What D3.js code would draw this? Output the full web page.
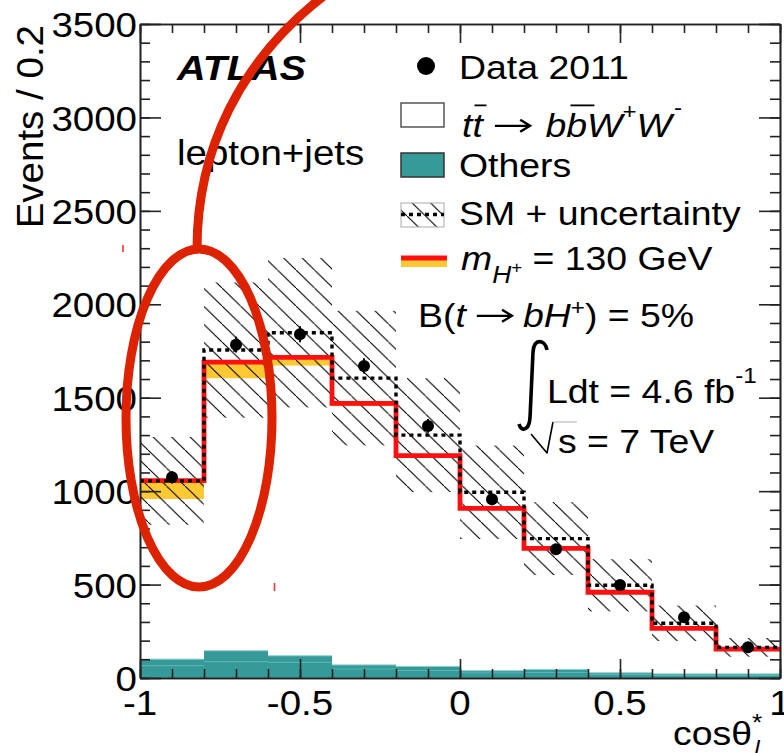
<!DOCTYPE html>
<html>
<head>
<meta charset="utf-8">
<script src="https://cdn.jsdelivr.net/npm/d3@7"></script>
<style>
  html, body { margin: 0; padding: 0; background: #fff; }
  svg { display: block; font-family: "Liberation Sans", Arial, Helvetica, sans-serif; }
  text { white-space: pre; }
</style>
</head>
<body>
<svg id="chart" width="784" height="753"></svg>
<script>
// cos(theta*_l) distribution, lepton+jets, 10 bins of width 0.2
const binLow = [-1.0, -0.8, -0.6, -0.4, -0.2, 0.0, 0.2, 0.4, 0.6, 0.8];
const binWidth = 0.2;

// Data 2011 (events per bin) and statistical errors
const dataEvents = [1074, 1784, 1840, 1670, 1349, 956, 689, 498, 325, 164];
const dataErr    = [33, 42, 43, 41, 37, 31, 26, 22, 18, 13];

// SM expectation (dotted) and its uncertainty (hatched band)
const smTotal = [1055, 1755, 1848, 1605, 1300, 994, 746, 496, 293, 164];
const smUnc   = [235, 362, 400, 360, 305, 250, 195, 140, 95, 50];

// Signal hypothesis m_H+ = 130 GeV, B(t->bH+) = 5% (red) and lower edge of yellow band
const signalTotal = [1056, 1690, 1716, 1470, 1190, 908, 694, 459, 266, 154];
const signalLow   = [958, 1604, 1672, 1455, 1185, 903, 690, 455, 263, 152];

// Other backgrounds, two stacked components
const othersLower = [66, 87, 84, 48, 40, 27, 30, 18, 14, 14];
const othersUpper = [35, 59, 35, 22, 22, 12, 16, 10, 8, 8];

// Axis tick labels
const yTickLabels = [0, 500, 1000, 1500, 2000, 2500, 3000, 3500];
const xTickLabels = [-1, -0.5, 0, 0.5, 1];

const SX = 1.1;             // horizontal text stretch
const FONT = 35;
const TEAL = "#369a99";
const RED = "#ff1010";
const YELLOW = "#fec933";

const svg = d3.select("#chart");
const x = d3.scaleLinear().domain([-1, 1]).range([140, 780]);
const y = d3.scaleLinear().domain([0, 3500]).range([678, 24]);

// hatch pattern
const defs = svg.append("defs");
const HW = 18.5, HH = 18;
const pat = defs.append("pattern").attr("id", "hatch")
  .attr("patternUnits", "userSpaceOnUse").attr("width", HW).attr("height", HH);
pat.append("path")
  .attr("d", `M${-2},${-2 * HH / HW} L${HW + 2},${HH + 2 * HH / HW}`)
  .attr("stroke", "#000").attr("stroke-width", 1.05);

const plot = svg.append("g");

// Others (stacked)
plot.selectAll("rect.olow").data(binLow).join("rect")
  .attr("x", d => x(d)).attr("width", d => x(d + binWidth) - x(d))
  .attr("y", (d, i) => y(othersLower[i]))
  .attr("height", (d, i) => y(0) - y(othersLower[i]))
  .attr("fill", TEAL);
plot.selectAll("rect.oup").data(binLow).join("rect")
  .attr("x", d => x(d)).attr("width", d => x(d + binWidth) - x(d))
  .attr("y", (d, i) => y(othersLower[i] + othersUpper[i]))
  .attr("height", (d, i) => y(othersLower[i]) - y(othersLower[i] + othersUpper[i]))
  .attr("fill", TEAL);
plot.selectAll("line.osep").data(binLow).join("line")
  .attr("x1", d => x(d)).attr("x2", d => x(d + binWidth))
  .attr("y1", (d, i) => y(othersLower[i])).attr("y2", (d, i) => y(othersLower[i]))
  .attr("stroke", "#5ab5b4").attr("stroke-width", 1);
plot.selectAll("line.otop").data(binLow).join("line")
  .attr("x1", d => x(d)).attr("x2", d => x(d + binWidth))
  .attr("y1", (d, i) => y(othersLower[i] + othersUpper[i]))
  .attr("y2", (d, i) => y(othersLower[i] + othersUpper[i]))
  .attr("stroke", "#8fcfce").attr("stroke-width", 1);

// yellow band under the signal line
plot.selectAll("rect.yel").data(binLow).join("rect")
  .attr("x", d => x(d)).attr("width", d => x(d + binWidth) - x(d))
  .attr("y", (d, i) => y(signalTotal[i]))
  .attr("height", (d, i) => y(signalLow[i]) - y(signalTotal[i]))
  .attr("fill", YELLOW);

// SM uncertainty band
plot.selectAll("rect.unc").data(binLow).join("rect")
  .attr("x", d => x(d)).attr("width", d => x(d + binWidth) - x(d))
  .attr("y", (d, i) => y(smTotal[i] + smUnc[i]))
  .attr("height", (d, i) => y(smTotal[i] - smUnc[i]) - y(smTotal[i] + smUnc[i]))
  .attr("fill", "url(#hatch)");

// step lines
const stepPts = vals => binLow.map((b, i) => [b, vals[i]]).concat([[1, vals[vals.length - 1]]]);
const step = d3.line().x(d => x(d[0])).y(d => y(d[1])).curve(d3.curveStepAfter);

plot.append("path").attr("d", step(stepPts(signalTotal)))
  .attr("fill", "none").attr("stroke", RED).attr("stroke-width", 4.8);
plot.append("path").attr("d", step(stepPts(smTotal)))
  .attr("fill", "none").attr("stroke", "#000").attr("stroke-width", 3.4)
  .attr("stroke-dasharray", "4,4");

// data points
const centers = binLow.map(b => b + binWidth / 2);
plot.selectAll("line.err").data(centers).join("line")
  .attr("x1", d => x(d)).attr("x2", d => x(d))
  .attr("y1", (d, i) => y(dataEvents[i] + dataErr[i]))
  .attr("y2", (d, i) => y(dataEvents[i] - dataErr[i]))
  .attr("stroke", "#000").attr("stroke-width", 2);
plot.selectAll("circle.pt").data(centers).join("circle")
  .attr("cx", d => x(d)).attr("cy", (d, i) => y(dataEvents[i]))
  .attr("r", 6).attr("fill", "#000");

// axes (frame with ticks on all four sides)
function styleAxis(g) {
  g.selectAll("path.domain").attr("stroke", "#222").attr("stroke-width", 1.6);
  g.selectAll(".tick line").attr("stroke", "#222").attr("stroke-width", 1.6);
  g.selectAll("text").remove();
}
const axes = svg.append("g");
const yMinor = y.ticks(35), yMajor = y.ticks(7);
const xMinor = x.ticks(20), xMajor = x.ticks(4);

axes.append("g").attr("transform", `translate(${x(-1)},0)`)
  .call(d3.axisLeft(y).tickValues(yMinor).tickSizeInner(-10).tickSizeOuter(0)).call(styleAxis);
axes.append("g").attr("transform", `translate(${x(-1)},0)`)
  .call(d3.axisLeft(y).tickValues(yMajor).tickSizeInner(-21).tickSizeOuter(0)).call(styleAxis);
axes.append("g").attr("transform", `translate(${x(1)},0)`)
  .call(d3.axisRight(y).tickValues(yMinor).tickSizeInner(-10).tickSizeOuter(0)).call(styleAxis);
axes.append("g").attr("transform", `translate(${x(1)},0)`)
  .call(d3.axisRight(y).tickValues(yMajor).tickSizeInner(-21).tickSizeOuter(0)).call(styleAxis);
axes.append("g").attr("transform", `translate(0,${y(0)})`)
  .call(d3.axisBottom(x).tickValues(xMinor).tickSizeInner(-9).tickSizeOuter(0)).call(styleAxis);
axes.append("g").attr("transform", `translate(0,${y(0)})`)
  .call(d3.axisBottom(x).tickValues(xMajor).tickSizeInner(-19).tickSizeOuter(0)).call(styleAxis);
axes.append("g").attr("transform", `translate(0,${y(3500)})`)
  .call(d3.axisTop(x).tickValues(xMinor).tickSizeInner(-9).tickSizeOuter(0)).call(styleAxis);
axes.append("g").attr("transform", `translate(0,${y(3500)})`)
  .call(d3.axisTop(x).tickValues(xMajor).tickSizeInner(-19).tickSizeOuter(0)).call(styleAxis);

// tick labels
const yLab = axes.append("g").attr("transform", `translate(${x(-1)},0)`)
  .call(d3.axisLeft(y).tickValues(yTickLabels).tickSize(0).tickPadding(3).tickFormat(d => String(d)));
yLab.select("path.domain").remove();
yLab.selectAll("text").attr("font-size", FONT).attr("fill", "#000")
  .attr("font-family", "'Liberation Sans', Arial, sans-serif")
  .attr("x", -3 / SX).attr("dy", "0.36em").attr("transform", `scale(${SX},1)`);

const xLab = axes.append("g").attr("transform", `translate(0,${y(0)})`)
  .call(d3.axisBottom(x).tickValues(xTickLabels).tickSize(0)
    .tickFormat(d => d < 0 ? "-" + String(Math.abs(d)) : String(d)));
xLab.select("path.domain").remove();
xLab.selectAll("text").attr("font-size", FONT).attr("fill", "#000")
  .attr("font-family", "'Liberation Sans', Arial, sans-serif")
  .attr("y", 37).attr("dy", 0).attr("transform", `scale(${SX},1)`)
  .each(function () { d3.select(this).attr("x", 0); });
xLab.selectAll(".tick").each(function (d) {
  d3.select(this).attr("transform", `translate(${x(d)},0)`);
});

// rich text helper: runs of text (and arrows) laid out left to right
function richText(parent, x0, y0, size, items) {
  const g = parent.append("g").attr("transform", `translate(${x0},${y0}) scale(${SX},1)`);
  let cx = 0;
  for (const it of items) {
    const fs = it.size || size;
    if (it.arrow) {
      const a0 = cx + (it.pre || 0), a1 = a0 + it.arrow, ay = -fs * 0.33;
      g.append("path")
        .attr("d", `M${a0},${ay} L${a1 - 1},${ay} M${a1 - 9},${ay - 6} L${a1},${ay} L${a1 - 9},${ay + 6}`)
        .attr("fill", "none").attr("stroke", "#000").attr("stroke-width", 2.2)
        .attr("stroke-linejoin", "miter");
      cx = a1 + (it.post || 0);
      continue;
    }
    const t = g.append("text").attr("x", cx + (it.dx || 0)).attr("y", it.dy || 0)
      .attr("font-size", fs).text(it.t);
    if (it.italic) t.attr("font-style", "italic");
    if (it.bold) t.attr("font-weight", "bold");
    const w = t.node().getComputedTextLength();
    if (it.bar) {
      g.append("line")
        .attr("x1", cx + (it.dx || 0) + w * 0.2).attr("x2", cx + (it.dx || 0) + w * 1.35)
        .attr("y1", -fs * 0.93).attr("y2", -fs * 0.93)
        .attr("stroke", "#000").attr("stroke-width", 1.8);
    }
    if (!it.noAdvance) cx += w + (it.dx || 0);
  }
  return g;
}

const txt = svg.append("g").attr("fill", "#000");

// y axis title
txt.append("text").attr("transform", `translate(43,25) rotate(-90) scale(1.07,1)`)
  .attr("text-anchor", "end").attr("font-size", 36).text("Events / 0.2");

// x axis title
richText(txt, 673, 745, 34, [
  { t: "cos" }, { t: "θ" },
  { t: "*", size: 24, dy: -14, noAdvance: true },
  { t: "l", size: 22, dy: 11, italic: true, dx: 2 }
]);

// experiment labels
richText(txt, 177, 80, 36, [{ t: "ATLAS", bold: true, italic: true }]);
richText(txt, 177, 165, 35, [{ t: "lepton+jets" }]);

// legend
const leg = svg.append("g");
const LF = 34;
leg.append("circle").attr("cx", 426).attr("cy", 66).attr("r", 9).attr("fill", "#000");
richText(txt, 459, 79, LF, [{ t: "Data 2011" }]);

leg.append("rect").attr("x", 401).attr("y", 103).attr("width", 43).attr("height", 24)
  .attr("fill", "#fff").attr("stroke", "#555").attr("stroke-width", 1.5);
richText(txt, 462, 137, LF, [
  { t: "t", italic: true }, { t: "t", italic: true, bar: true },
  { arrow: 32, pre: 11, post: 14 },
  { t: "b", italic: true }, { t: "b", italic: true, bar: true },
  { t: "W", italic: true }, { t: "+", size: 22, dy: -18 },
  { t: "W", italic: true }, { t: "-", size: 22, dy: -22, dx: 2 }
]);

leg.append("rect").attr("x", 401).attr("y", 153).attr("width", 43).attr("height", 24)
  .attr("fill", TEAL).attr("stroke", "#333").attr("stroke-width", 1.5);
richText(txt, 459, 177, LF, [{ t: "Others" }]);

leg.append("rect").attr("x", 401).attr("y", 203).attr("width", 43).attr("height", 24)
  .attr("fill", "url(#hatch)").attr("stroke", "#aaa").attr("stroke-width", 1);
leg.append("line").attr("x1", 401).attr("x2", 444).attr("y1", 214.5).attr("y2", 214.5)
  .attr("stroke", "#000").attr("stroke-width", 3.4).attr("stroke-dasharray", "4,4");
richText(txt, 459, 225, LF, [{ t: "SM + uncertainty" }]);

leg.append("rect").attr("x", 401).attr("y", 260).attr("width", 46).attr("height", 7).attr("fill", YELLOW);
leg.append("rect").attr("x", 401).attr("y", 255.5).attr("width", 46).attr("height", 5).attr("fill", RED);
richText(txt, 461, 270, LF, [
  { t: "m", italic: true },
  { t: "H", italic: true, size: 24, dy: 13 },
  { t: "+", size: 17, dy: 3 },
  { t: " = 130 GeV" }
]);

richText(txt, 418, 327, LF, [
  { t: "B(" }, { t: "t", italic: true },
  { arrow: 32, pre: 10, post: 10 },
  { t: "bH", italic: true }, { t: "+", size: 22, dy: -12 },
  { t: ") = 5%" }
]);

// integral sign
txt.append("path")
  .attr("d", "M547,350 C545,339 534,338 533,352 L530,418 C529,431 521,432 519,424")
  .attr("fill", "none").attr("stroke", "#000").attr("stroke-width", 3.6);
richText(txt, 547, 403, LF, [
  { t: "Ldt = 4.6 fb" }, { t: "-1", size: 22, dy: -20 }
]);

// square root
txt.append("path").attr("d", "M531,434 L547,453 L553,422")
  .attr("fill", "none").attr("stroke", "#000").attr("stroke-width", 1.6)
  .attr("stroke-linejoin", "round");
svg.append("line").attr("x1", 553).attr("x2", 577).attr("y1", 422).attr("y2", 422)
  .attr("stroke", "#bbb").attr("stroke-width", 1.2);
richText(txt, 558, 453, LF, [{ t: "s = 7 TeV" }]);

// highlight annotation
const ann = svg.append("g").attr("fill", "none").attr("stroke", "#dd2200").attr("stroke-width", 9);
ann.append("ellipse").attr("cx", 199).attr("cy", 418).attr("rx", 73).attr("ry", 169);
ann.append("path").attr("d", "M197,249 C197,150 240,60 325,-5");
svg.append("line").attr("x1", 123).attr("x2", 123).attr("y1", 245).attr("y2", 252)
  .attr("stroke", "#e33").attr("stroke-width", 1.6);
svg.append("line").attr("x1", 274.5).attr("x2", 274.5).attr("y1", 583).attr("y2", 591)
  .attr("stroke", "#e33").attr("stroke-width", 1.6);
</script>
</body>
</html>
